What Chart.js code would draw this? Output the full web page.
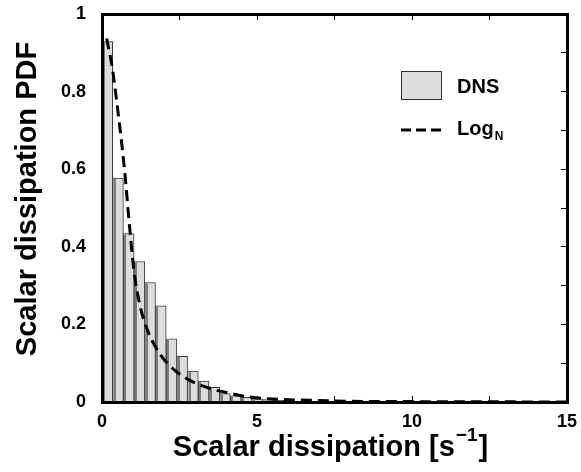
<!DOCTYPE html>
<html>
<head>
<meta charset="utf-8">
<script src="https://cdn.jsdelivr.net/npm/chart.js@4.4.1/dist/chart.umd.min.js"></script>
<style>
    body { margin: 0; background: #fff; }
    #wrap { width: 581px; height: 472px; }
</style>
</head>
<body>
<div id="wrap"><canvas id="pdfChart" width="581" height="472"></canvas></div>
<script>
// DNS histogram (bin centres, s^-1) and PDF heights
const binCenters = [0.1725, 0.5175, 0.8625, 1.2075, 1.5525, 1.8975, 2.2425, 2.5875, 2.9325, 3.2775, 3.6225,
    3.9675, 4.3125, 4.6575, 5.0025, 5.3475, 5.6925, 6.0375, 6.3825, 6.7275, 7.0725, 7.4175];
const dnsValues = [0.929, 0.577, 0.434, 0.362, 0.308, 0.248, 0.163, 0.118, 0.080, 0.054, 0.038,
    0.022, 0.016, 0.012, 0.008, 0.006, 0.004, 0.003, 0.002, 0.002, 0.001, 0.001];

// Log-normal fit
const logNX = [0.15, 0.33, 0.55, 0.73, 0.89, 1.03, 1.21, 1.47, 1.85, 2.27, 2.8, 3.44, 4.08, 4.93, 6, 7, 8, 10, 12, 15];
const logNY = [0.937, 0.862, 0.725, 0.596, 0.451, 0.339, 0.254, 0.185, 0.126, 0.087, 0.057, 0.036, 0.023, 0.011,
    0.006, 0.004, 0.002, 0.001, 0.0005, 0.0002];

// tick positions (labels only on every other one)
const xTickValues = [0, 2.5, 5, 7.5, 10, 12.5, 15];
const xLabelled = [0, 5, 10, 15];
const yTickValues = [0, 0.1, 0.2, 0.3, 0.4, 0.5, 0.6, 0.7, 0.8, 0.9, 1];
const yLabelled = [0, 0.2, 0.4, 0.6, 0.8, 1];

const FONT = '"Liberation Sans", Arial, Helvetica, sans-serif';
const tickFont = { family: FONT, size: 18, weight: 'bold' };

// darker strip on the left side of each histogram bar
const barShadePlugin = {
    id: 'barShade',
    afterDatasetDraw(chart, args) {
        if (args.index !== 0) return;
        const c = chart.ctx;
        c.save();
        c.fillStyle = '#7a7a7a';
        args.meta.data.forEach(bar => {
            const p = bar.getProps(['x', 'y', 'base', 'width'], true);
            const h = p.base - p.y;
            if (h > 2) c.fillRect(Math.round(p.x - p.width / 2) + 1, p.y + 1, 2, h - 1);
        });
        c.restore();
    }
};

// plot frame, titles and legend
const textPlugin = {
    id: 'texts',
    afterDraw(chart) {
        const c = chart.ctx, a = chart.chartArea;
        c.save();
        c.fillStyle = '#000';
        const L = Math.round(a.left), R = Math.round(a.right), T = Math.round(a.top), B = Math.round(a.bottom);
        c.fillRect(L - 1, T - 1, R - L + 3, 3);
        c.fillRect(L - 1, B - 1, R - L + 3, 3);
        c.fillRect(L - 1, T - 1, 3, B - T + 3);
        c.fillRect(R - 1, T - 1, 3, B - T + 3);

        c.textBaseline = 'alphabetic';
        c.textAlign = 'left';

        // x title with superscript
        const big = 'bold 29px ' + FONT, sup = 'bold 19px ' + FONT;
        const p1 = 'Scalar dissipation [s', p2 = '\u22121', p3 = ']';
        c.font = big; const w1 = c.measureText(p1).width, w3 = c.measureText(p3).width;
        c.font = sup; const w2 = c.measureText(p2).width;
        const sx = (a.left + a.right) / 2 - (w1 + w2 + w3 + 2) / 2 - 4;
        const base = 456;
        c.font = big; c.fillText(p1, sx, base);
        c.font = sup; c.fillText(p2, sx + w1 + 1, base - 15);
        c.font = big; c.fillText(p3, sx + w1 + w2 + 2, base);

        // y title
        c.save();
        c.translate(36, 199);
        c.rotate(-Math.PI / 2);
        c.textAlign = 'center';
        c.font = 'bold 29px ' + FONT;
        c.fillText('Scalar dissipation PDF', 0, 0);
        c.restore();

        // legend
        c.fillStyle = '#dcdcdc';
        c.fillRect(401, 71, 41, 29);
        c.strokeStyle = '#333';
        c.lineWidth = 1;
        c.strokeRect(401.5, 71.5, 40, 28);
        c.fillStyle = '#000';
        c.font = 'bold 20px ' + FONT;
        c.textBaseline = 'middle';
        c.fillText('DNS', 457, 87);
        c.beginPath();
        c.setLineDash([10, 5]);
        c.lineWidth = 3;
        c.strokeStyle = '#000';
        c.moveTo(401, 130); c.lineTo(443, 130);
        c.stroke();
        c.setLineDash([]);
        c.fillText('Log', 457, 129);
        const lw = c.measureText('Log').width;
        c.font = 'bold 12px ' + FONT;
        c.fillText('N', 457 + lw + 1, 137);
        c.restore();
    }
};

const frameGrid = { display: true, drawOnChartArea: false, drawTicks: true, tickLength: -6, color: '#000', lineWidth: 1 };
const frameBorder = { display: true, color: '#000', width: 2 };

const ctx = document.getElementById('pdfChart').getContext('2d');
new Chart(ctx, {
    type: 'bar',
    data: {
        datasets: [{
            label: 'DNS',
            data: binCenters.map((x, i) => ({ x: x, y: dnsValues[i] })),
            backgroundColor: '#dcdcdc',
            borderColor: '#3a3a3a',
            borderWidth: 1,
            barPercentage: 1,
            categoryPercentage: 1,
            order: 2
        }, {
            type: 'line',
            label: 'LogN',
            data: logNX.map((x, i) => ({ x: x, y: logNY[i] })),
            borderColor: '#000',
            borderWidth: 3,
            borderDash: [11, 6],
            pointRadius: 0,
            fill: false,
            cubicInterpolationMode: 'monotone',
            order: 1
        }]
    },
    options: {
        responsive: false,
        animation: false,
        layout: { padding: { top: 14, right: 14, left: 0, bottom: 0 } },
        plugins: { legend: { display: false }, tooltip: { enabled: false } },
        scales: {
            x: {
                type: 'linear', position: 'bottom', min: 0, max: 15, offset: false,
                afterBuildTicks: (s) => { s.ticks = xTickValues.map(v => ({ value: v })); },
                afterFit: (s) => { s.height = 70; s.paddingLeft = 0; s.paddingRight = 0; },
                grid: { ...frameGrid, offset: false },
                border: frameBorder,
                ticks: {
                    color: '#000', padding: 15, font: tickFont, maxRotation: 0, autoSkip: false,
                    callback: (v) => xLabelled.includes(v) ? String(v) : ''
                }
            },
            x2: {
                type: 'linear', position: 'top', min: 0, max: 15, offset: false,
                afterBuildTicks: (s) => { s.ticks = xTickValues.map(v => ({ value: v })); },
                afterFit: (s) => { s.height = 0; s.paddingLeft = 0; s.paddingRight = 0; },
                grid: { ...frameGrid, offset: false },
                border: frameBorder,
                ticks: { display: false }
            },
            y: {
                position: 'left', min: 0, max: 1,
                afterBuildTicks: (s) => { s.ticks = yTickValues.map(v => ({ value: v })); },
                afterFit: (s) => { s.width = 102; s.paddingTop = 0; s.paddingBottom = 0; },
                grid: frameGrid,
                border: frameBorder,
                ticks: {
                    color: '#000', padding: 22, font: tickFont, autoSkip: false,
                    callback: (v) => yLabelled.some(t => Math.abs(t - v) < 1e-9) ? String(Math.round(v * 10) / 10) : ''
                }
            },
            y2: {
                position: 'right', min: 0, max: 1,
                afterBuildTicks: (s) => { s.ticks = yTickValues.map(v => ({ value: v })); },
                afterFit: (s) => { s.width = 0; s.paddingTop = 0; s.paddingBottom = 0; },
                grid: frameGrid,
                border: frameBorder,
                ticks: { display: false }
            }
        }
    },
    plugins: [barShadePlugin, textPlugin]
});
</script>
</body>
</html>
